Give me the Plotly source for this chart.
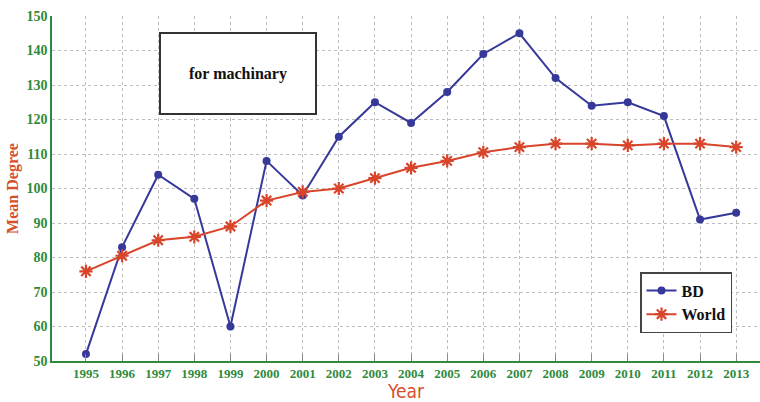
import plotly.graph_objects as go

# Mean degree of the machinery trade network, Bangladesh vs. world average
years = list(range(1995, 2014))
bd_mean_degree = [52, 83, 104, 97, 60, 108, 98, 115, 125, 119, 128, 139, 145, 132, 124, 125, 121, 91, 93]
world_mean_degree = [76, 80.5, 85, 86, 89, 96.5, 99, 100, 103, 106, 108, 110.5, 112, 113, 113, 112.5, 113, 113, 112]
y_ticks = [50, 60, 70, 80, 90, 100, 110, 120, 130, 140, 150]

GREEN = "#2f8a3c"
TITLE_RED = "#d6502c"
BLUE = "#36399a"
RED = "#d8452a"
SERIF = "Liberation Serif, Times New Roman, serif"

fig = go.Figure()
fig.add_trace(go.Scatter(
    x=years, y=bd_mean_degree, name="<b>BD</b>", mode="lines+markers",
    line=dict(color=BLUE, width=2),
    marker=dict(symbol="circle", size=8, color=BLUE),
))
fig.add_trace(go.Scatter(
    x=years, y=world_mean_degree, name="<b>World</b>", mode="lines+markers",
    line=dict(color=RED, width=2),
    marker=dict(symbol="asterisk-open", size=11, color=RED, line=dict(color=RED, width=2.2)),
))

# Annotation box in the upper left of the plot
fig.add_shape(type="rect", xref="paper", yref="paper",
              x0=(160 - 52) / 708, x1=(316 - 52) / 708,
              y0=1 - (114 - 16) / 345, y1=1 - (33 - 16) / 345,
              line=dict(color="#333333", width=2), fillcolor="white", layer="above")
fig.add_annotation(text="<b>for machinary</b>", xref="paper", yref="paper",
                   x=(238 - 52) / 708, y=1 - (74 - 16) / 345, showarrow=False,
                   xanchor="center", yanchor="middle",
                   font=dict(family=SERIF, size=16, color="#111111"))

fig.update_layout(
    width=760, height=402,
    margin=dict(l=52, r=0, t=16, b=41),
    paper_bgcolor="white", plot_bgcolor="white",
    showlegend=True,
    legend=dict(
        x=(640 - 52) / 708, y=1 - (272 - 16) / 345, xanchor="left", yanchor="top",
        bgcolor="white", bordercolor="#444444", borderwidth=1.5,
        font=dict(family=SERIF, size=16, color="#111111"),
        itemwidth=30, tracegroupgap=2,
    ),
    xaxis=dict(
        range=[1994.06, 2013.66], tickmode="array", tickvals=years,
        ticktext=[f"<b>{y}</b>" for y in years],
        tickfont=dict(family=SERIF, size=13, color=GREEN),
        showgrid=True, gridcolor="#bdbdbd", griddash="dot", gridwidth=1,
        showline=True, linecolor=GREEN, linewidth=1.5,
        ticks="inside", ticklen=7, tickcolor="#8a8a8a",
        zeroline=False,
        title=dict(text="Year", font=dict(family="DejaVu Sans Condensed, DejaVu Sans, sans-serif", size=19, color=TITLE_RED), standoff=2),
    ),
    yaxis=dict(
        range=[50, 150], tickmode="array", tickvals=y_ticks,
        ticktext=[f"<b>{v}</b>" for v in y_ticks],
        tickfont=dict(family=SERIF, size=14, color=GREEN),
        showgrid=True, gridcolor="#bdbdbd", griddash="dot", gridwidth=1,
        showline=True, linecolor=GREEN, linewidth=1.5,
        ticks="", zeroline=False,
        title=dict(text="<b>Mean Degree</b>", font=dict(family=SERIF, size=16, color=TITLE_RED), standoff=4),
    ),
)

fig.write_html("out.html")
